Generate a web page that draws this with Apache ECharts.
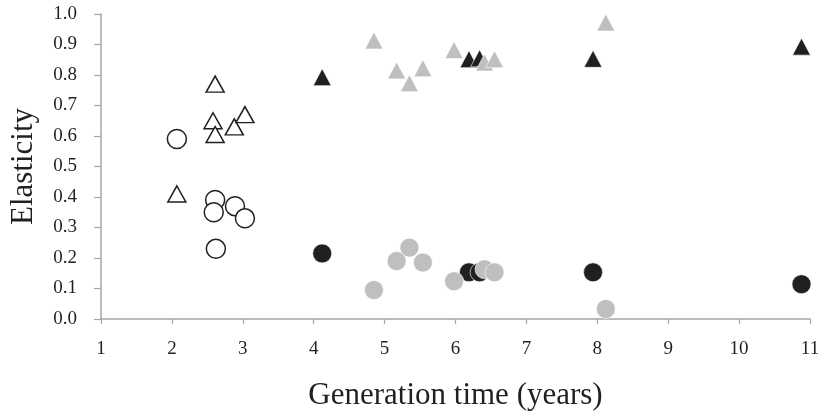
<!DOCTYPE html>
<html>
<head>
<meta charset="utf-8">
<script src="https://cdn.jsdelivr.net/npm/echarts@6/dist/echarts.min.js"></script>
<style>
html,body{margin:0;padding:0;background:#fff;}
#chart{width:823px;height:416px;}
</style>
</head>
<body>
<div id="chart"></div>
<script>
// Open circles
var openCircleX = [2.07, 2.61, 2.59, 2.89, 3.03, 2.62];
var openCircleY = [0.59, 0.39, 0.35, 0.37, 0.33, 0.23];
// Open triangles
var openTriX = [2.61, 2.58, 2.61, 2.88, 3.03, 2.07];
var openTriY = [0.77, 0.65, 0.605, 0.63, 0.67, 0.41];
// Black circles
var blackCircleX = [4.12, 6.19, 6.34, 7.94, 10.88];
var blackCircleY = [0.215, 0.153, 0.153, 0.153, 0.114];
// Black triangles
var blackTriX = [4.12, 6.19, 6.34, 7.94, 10.88];
var blackTriY = [0.793, 0.852, 0.855, 0.853, 0.893];
// Gray circles
var grayCircleX = [4.85, 5.17, 5.35, 5.54, 5.98, 6.41, 6.55, 8.12];
var grayCircleY = [0.095, 0.19, 0.234, 0.185, 0.124, 0.163, 0.153, 0.033];
// Gray triangles
var grayTriX = [4.85, 5.17, 5.35, 5.54, 5.98, 6.41, 6.55, 8.12];
var grayTriY = [0.913, 0.815, 0.773, 0.822, 0.882, 0.841, 0.852, 0.972];

var xTicks = [1,2,3,4,5,6,7,8,9,10,11];
var xName = 'Generation time (years)';
var yName = 'Elasticity';

function pairs(xs, ys){ return xs.map(function(x,i){ return [x, ys[i]]; }); }

var BLACK = '#231f20', GRAY = '#bfbfbf', AXIS = '#a6a6a6';
var FONT = '"Liberation Serif", "DejaVu Serif", serif';

var chart = echarts.init(document.getElementById('chart'), null, {renderer:'canvas'});
chart.setOption({
  animation: false,
  backgroundColor: '#fff',
  grid: {left: 97, right: 13, top: 14, bottom: 97, containLabel: false},
  xAxis: {
    type: 'value', min: 1, max: 11, interval: 1,
    name: xName, nameLocation: 'middle', nameGap: 61,
    nameTextStyle: {fontFamily: FONT, fontSize: 31, color: BLACK},
    axisLine: {show: true, onZero: false, lineStyle: {color: AXIS, width: 1.5}},
    axisTick: {show: true, length: 5, lineStyle: {color: AXIS, width: 1.2}},
    axisLabel: {fontFamily: FONT, fontSize: 19, color: BLACK, margin: 21,
      formatter: function(v){ return xTicks.indexOf(v) >= 0 ? String(v) : ''; }},
    splitLine: {show: false}
  },
  yAxis: {
    type: 'value', min: 0, max: 1, interval: 0.1,
    name: yName, nameLocation: 'middle', nameGap: 62, nameRotate: 90,
    nameTextStyle: {fontFamily: FONT, fontSize: 31, color: BLACK},
    axisLine: {show: true, onZero: false, lineStyle: {color: AXIS, width: 1.5}},
    axisTick: {show: true, length: 7, lineStyle: {color: AXIS, width: 1.2}},
    axisLabel: {fontFamily: FONT, fontSize: 19, color: BLACK, margin: 24,
      formatter: function(v){ return v.toFixed(1); }},
    splitLine: {show: false}
  },
  series: [
    {type:'scatter', name:'open circles', data: pairs(openCircleX, openCircleY),
     symbol:'circle', symbolSize: 19,
     itemStyle:{color:'#fff', borderColor: BLACK, borderWidth: 1.5, opacity: 1}},
    {type:'scatter', name:'open triangles', data: pairs(openTriX, openTriY),
     symbol:'triangle', symbolSize: [18, 16],
     itemStyle:{color:'#fff', borderColor: BLACK, borderWidth: 1.5, opacity: 1}},
    {type:'scatter', name:'black circles', data: pairs(blackCircleX, blackCircleY),
     symbol:'circle', symbolSize: 19,
     itemStyle:{color: BLACK, borderColor:'#fff', borderWidth: 0.6, opacity: 1}},
    {type:'scatter', name:'black triangles', data: pairs(blackTriX, blackTriY),
     symbol:'triangle', symbolSize: [18, 17],
     itemStyle:{color: BLACK, borderColor:'#fff', borderWidth: 0.6, opacity: 1}},
    {type:'scatter', name:'gray circles', data: pairs(grayCircleX, grayCircleY),
     symbol:'circle', symbolSize: 19,
     itemStyle:{color: GRAY, borderColor:'#fff', borderWidth: 0.6, opacity: 1}},
    {type:'scatter', name:'gray triangles', data: pairs(grayTriX, grayTriY),
     symbol:'triangle', symbolSize: [18, 17],
     itemStyle:{color: GRAY, borderColor:'#fff', borderWidth: 0.6, opacity: 1}}
  ]
});
</script>
</body>
</html>
